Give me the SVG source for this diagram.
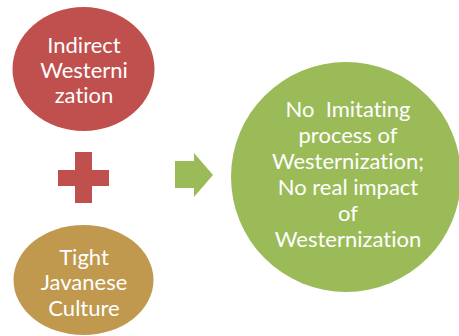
<svg xmlns="http://www.w3.org/2000/svg" width="459" height="336" viewBox="0 0 459 336">
<style>
text{font-family:Lato,"Open Sans","Liberation Sans",sans-serif;font-size:22px;fill:#fff;text-anchor:middle;white-space:pre;font-variant-ligatures:none;font-feature-settings:"liga" 0}
</style>
<rect width="459" height="336" fill="#fff"/>
<g id="indirect">
<ellipse cx="83.5" cy="69" rx="71" ry="62" fill="#C0504D"/>
<text x="84" y="53">Indirect</text>
<text x="84" y="78">Westerni</text>
<text x="84" y="103">zation</text>
</g>
<g id="plus">
<path d="M75,152H92V170H109V186H92V203H75V186H58V170H75Z" fill="#C0504D"/>
</g>
<g id="javanese">
<ellipse cx="83.5" cy="280" rx="70" ry="55" fill="#C0994F"/>
<text x="84" y="265">Tight</text>
<text x="84" y="290">Javanese</text>
<text x="84" y="316">Culture</text>
</g>
<g id="connectors">
<path d="M175,161H194V153L213,175L194,197V188H175Z" fill="#9BBB59"/>
</g>
<g id="result">
<circle cx="346" cy="177" r="115" fill="#9BBB59"/>
<text x="348" y="117">No  Imitating</text>
<text x="348" y="143">process of</text>
<text x="348" y="169">Westernization;</text>
<text x="348" y="195">No real impact</text>
<text x="348" y="221">of</text>
<text x="348" y="247">Westernization</text>
</g>
</svg>
